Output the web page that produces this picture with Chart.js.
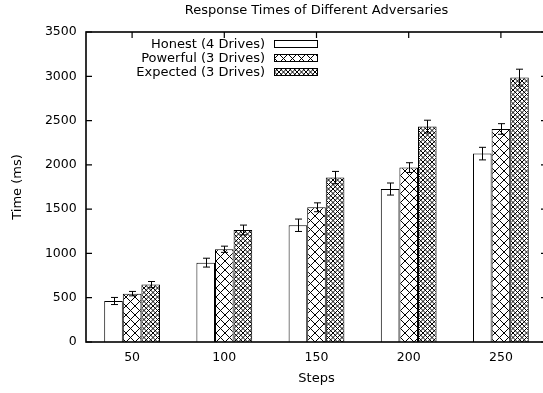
<!DOCTYPE html>
<html>
<head>
<meta charset="utf-8">
<script src="https://cdn.jsdelivr.net/npm/chart.js@4.4.1/dist/chart.umd.min.js"></script>
<style>
  html, body { margin: 0; padding: 0; background: #fff; overflow: hidden; }
  #wrap { width: 560px; height: 393px; position: relative; }
</style>
</head>
<body>
<div id="wrap"><canvas id="chart"></canvas></div>
<script>
// Response times (ms) per number of steps, with error margins
const steps = ['50', '100', '150', '200', '250'];
const seriesNames = ['Honest (4 Drives)', 'Powerful (3 Drives)', 'Expected (3 Drives)'];
const honest = [463, 896, 1318, 1727, 2127];
const honestErr = [40, 50, 70, 68, 71];
const powerful = [546, 1047, 1521, 1969, 2405];
const powerfulErr = [25, 35, 50, 55, 60];
const expected = [648, 1265, 1856, 2432, 2985];
const expectedErr = [35, 55, 70, 72, 95];
const yMin = 0;
const yMax = 3500;
const yStep = 500;

const FONT = 'DejaVu Sans';
const INK = '#000';

// Diagonal crosshatch fill; n lines per tile in each direction
function hatch(size, n) {
  const c = document.createElement('canvas');
  c.width = size; c.height = size;
  const g = c.getContext('2d');
  g.fillStyle = '#fff';
  g.fillRect(0, 0, size, size);
  g.strokeStyle = '#000';
  g.lineWidth = 1;
  g.beginPath();
  for (let o = -size; o <= size; o += size) {
    for (let k = 0; k < n; k++) {
      const s = o + k * size / n;
      g.moveTo(s, 0); g.lineTo(s + size, size);
      g.moveTo(s, size); g.lineTo(s + size, 0);
    }
  }
  g.stroke();
  return g.createPattern(c, 'repeat');
}

const fills = ['#fff', hatch(9, 1), hatch(9, 2)];
const errors = [honestErr, powerfulErr, expectedErr];

// Error bars with short caps on every bar
const errorBars = {
  id: 'errorBars',
  afterDatasetsDraw(chart) {
    const ctx = chart.ctx;
    const y = chart.scales.y;
    ctx.save();
    ctx.strokeStyle = INK;
    ctx.lineWidth = 1;
    chart.data.datasets.forEach((ds, i) => {
      const meta = chart.getDatasetMeta(i);
      meta.data.forEach((bar, j) => {
        const v = ds.data[j], e = errors[i][j];
        const x = Math.round(bar.x) + 0.5;
        const t = y.getPixelForValue(v + e);
        const b = y.getPixelForValue(v - e);
        ctx.beginPath();
        ctx.moveTo(x, t); ctx.lineTo(x, b);
        ctx.moveTo(x - 3.5, t); ctx.lineTo(x + 3.5, t);
        ctx.moveTo(x - 3.5, b); ctx.lineTo(x + 3.5, b);
        ctx.stroke();
      });
    });
    ctx.restore();
  }
};

// Plot border with inward tick marks on all sides
const frame = {
  id: 'frame',
  afterDatasetsDraw(chart) {
    const ctx = chart.ctx;
    const a = chart.chartArea;
    const y = chart.scales.y, x = chart.scales.x;
    ctx.save();
    ctx.strokeStyle = INK;
    ctx.lineWidth = 1.2;
    ctx.beginPath();
    y.ticks.forEach(t => {
      const p = y.getPixelForValue(t.value);
      ctx.moveTo(a.left, p); ctx.lineTo(a.left + 6, p);
      ctx.moveTo(a.right, p); ctx.lineTo(a.right - 6, p);
    });
    x.ticks.forEach((t, i) => {
      const p = x.getPixelForValue(i);
      ctx.moveTo(p, a.top); ctx.lineTo(p, a.top + 6);
    });
    ctx.stroke();
    ctx.lineWidth = 1.6;
    ctx.strokeRect(a.left, a.top, a.right - a.left, a.bottom - a.top);
    ctx.restore();
  }
};

// Key in the upper left: right-aligned names followed by fill samples
const key = {
  id: 'key',
  afterDraw(chart) {
    const ctx = chart.ctx;
    ctx.save();
    ctx.font = '13px "' + FONT + '"';
    ctx.textAlign = 'right';
    ctx.textBaseline = 'middle';
    seriesNames.forEach((name, i) => {
      const cy = 44 + i * 14;
      ctx.fillStyle = INK;
      ctx.fillText(name, 265, cy + 0.5);
      ctx.fillStyle = fills[i];
      ctx.fillRect(274.5, cy - 3.5, 43, 7);
      ctx.strokeStyle = INK;
      ctx.lineWidth = 1;
      ctx.strokeRect(274.5, cy - 3.5, 43, 7);
    });
    ctx.restore();
  }
};

const mk = (label, data, i) => ({
  label, data,
  backgroundColor: fills[i],
  borderColor: INK,
  borderWidth: 1,
  categoryPercentage: 0.605,
  barPercentage: 1.0
});

new Chart(document.getElementById('chart'), {
  type: 'bar',
  data: {
    labels: steps,
    datasets: [
      mk(seriesNames[0], honest, 0),
      mk(seriesNames[1], powerful, 1),
      mk(seriesNames[2], expected, 2)
    ]
  },
  options: {
    responsive: true,
    maintainAspectRatio: false,
    animation: false,
    devicePixelRatio: 1,
    layout: { padding: { left: 0, right: 13, top: 0, bottom: 0 } },
    plugins: {
      legend: { display: false },
      tooltip: { enabled: false },
      title: {
        display: true,
        text: 'Response Times of Different Adversaries',
        color: INK,
        fullSize: false,
        font: { family: FONT, size: 13, weight: 'normal' },
        padding: { top: 3, bottom: 13.4 }
      }
    },
    scales: {
      x: {
        grid: { display: false, drawTicks: false },
        border: { display: false },
        ticks: { color: INK, font: { family: FONT, size: 12.5 }, padding: 8.5, maxRotation: 0 },
        title: {
          display: true, text: 'Steps', color: INK,
          font: { family: FONT, size: 13 },
          padding: { top: 0, bottom: 7 }
        },
        afterFit(s) { s.height = 51; }
      },
      y: {
        min: yMin, max: yMax,
        grid: { display: false, drawTicks: false },
        border: { display: false },
        ticks: {
          stepSize: yStep, color: INK, font: { family: FONT, size: 12.5 }, padding: 9.3,
          callback: v => String(v)
        },
        title: {
          display: true, text: 'Time (ms)', color: INK,
          font: { family: FONT, size: 13 },
          padding: { top: 9.5, bottom: 0 }
        },
        afterFit(s) { s.width = 86; }
      }
    }
  },
  plugins: [errorBars, frame, key]
});
</script>
</body>
</html>
